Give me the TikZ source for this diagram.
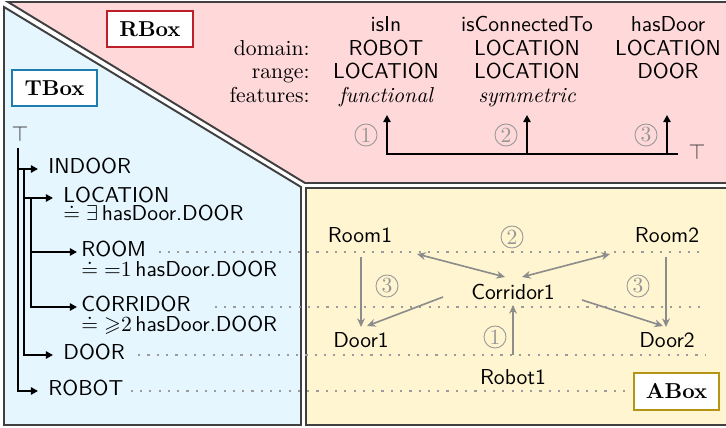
\documentclass[tikz,border=0pt]{standalone}
\usepackage{amsmath,amssymb}
\usepackage{fontspec}
\usetikzlibrary{arrows.meta,calc}
\definecolor{rfill}{RGB}{255,217,218}
\definecolor{bfill}{RGB}{229,246,255}
\definecolor{yfill}{RGB}{255,245,208}
\definecolor{rlab}{RGB}{190,30,40}
\definecolor{blab}{RGB}{30,125,175}
\definecolor{ylab}{RGB}{180,148,20}
\definecolor{arrgray}{RGB}{140,140,140}
\definecolor{numgray}{RGB}{150,150,150}
\definecolor{dotgray}{RGB}{155,155,155}
\begin{document}
\begin{tikzpicture}[x=0.463pt,y=-0.463pt,
  region/.style={line width=0.9pt,draw=black!75},
  boxlabel/.style={draw,fill=white,line width=0.9pt,minimum width=39.5pt,minimum height=17pt,inner sep=0pt,font=\bfseries},
  sans/.style={inner sep=0pt,font=\sffamily},
  tnode/.style={inner sep=0pt,font=\sffamily,anchor=base west},
  cell/.style={inner sep=0pt,font=\sffamily,anchor=base},
  icell/.style={inner sep=0pt,font=\itshape,anchor=base},
  rowlab/.style={inner sep=0pt,anchor=base east},
  circnum/.style={circle,draw=numgray,text=numgray,line width=0.4pt,minimum size=10.2pt,inner sep=0pt},
  tarr/.style={line width=0.8pt,-{Triangle[length=3.3pt,width=3.4pt]}},
  garr/.style={line width=0.75pt,draw=arrgray,-{Stealth[length=4pt,width=3.6pt]},arrgray},
  gdarr/.style={line width=0.75pt,draw=arrgray,{Stealth[length=4pt,width=3.6pt]}-{Stealth[length=4pt,width=3.6pt]},arrgray},
  dots/.style={draw=dotgray,line width=1pt,dash pattern=on 1pt off 3.3pt},
]
\useasboundingbox (0,0) rectangle (726,428);

% regions
\draw[region,fill=rfill] (8,2) -- (734,2) -- (734,183) -- (305,183) -- cycle;
\draw[region,fill=bfill] (4,7) -- (301,187) -- (301,425) -- (4,425) -- cycle;
\draw[region,fill=yfill] (306,188) -- (734,188) -- (734,425) -- (306,425) -- cycle;

% box labels
\node[boxlabel,draw=rlab] (RBox) at (150,29) {RBox};
\node[boxlabel,draw=blab] (TBox) at (54.5,88) {TBox};
\node[boxlabel,draw=ylab] (ABox) at (676.5,391.5) {ABox};

% RBox table
\node[cell] (h1) at (386,32) {isIn};
\node[cell] (h2) at (527,32) {isConnectedTo};
\node[cell] (h3) at (668,32) {hasDoor};
\node[rowlab] (ldom) at (310,56) {domain:};
\node[rowlab] (lran) at (310,79) {range:};
\node[rowlab] (lfea) at (310,103) {features:};
\node[cell] (d1) at (386,56) {ROBOT};
\node[cell] (d2) at (527,56) {LOCATION};
\node[cell] (d3) at (668,56) {LOCATION};
\node[cell] (r1) at (386,79) {LOCATION};
\node[cell] (r2) at (527,79) {LOCATION};
\node[cell] (r3) at (668,79) {DOOR};
\node[icell] (f1) at (386,103) {functional};
\node[icell] (f2) at (527,103) {symmetric};

% RBox role hierarchy
\node[inner sep=0pt,text=black!80] (RT) at (697,152) {$\top$};
\coordinate (tip1) at (387,115);
\coordinate (tip2) at (527,115);
\coordinate (tip3) at (667,115);
\draw[tarr] ($(RT.west)+(-10,2)$) -| (tip1);
\draw[tarr] ($(tip2)+(0,39)$) -- (tip2);
\draw[tarr] ($(tip3)+(0,39)$) -- (tip3);
\node[circnum] (rc1) at (366,135) {1};
\node[circnum] (rc2) at (506,135) {2};
\node[circnum] (rc3) at (646,135) {3};

% TBox tree
\node[inner sep=0pt,text=black!80] (T) at (20,134) {$\top$};
\node[tnode] (INDOOR) at (48,174) {INDOOR};
\node[tnode] (LOCATION) at (63,203) {LOCATION};
\node[tnode] (LOCdef) at (63,221) {$\doteq\exists$\,hasDoor.DOOR};
\node[tnode] (ROOM) at (81,257) {ROOM};
\node[tnode] (ROOMdef) at (81,277) {$\doteq{=}1$\,hasDoor.DOOR};
\node[tnode] (CORRIDOR) at (81,312) {CORRIDOR};
\node[tnode] (CORdef) at (81,332) {$\doteq{\geqslant}2$\,hasDoor.DOOR};
\node[tnode] (DOOR) at (63,360) {DOOR};
\node[tnode] (ROBOT) at (48,396) {ROBOT};

\draw[tarr] ($(T.south)+(-2.3,6)$) |- ($(INDOOR.base west)+(-10,-5)$);
\draw[tarr] ($(T.south)+(-2.3,6)$) |- ($(ROBOT.base west)+(-10,-5)$);
\draw[tarr] ($(INDOOR.base west)+(-24,-5)$) |- ($(LOCATION.base west)+(-10,-5)$);
\draw[tarr] ($(INDOOR.base west)+(-24,-5)$) |- ($(DOOR.base west)+(-10,-5)$);
\draw[tarr] ($(LOCATION.base west)+(-32,-5)$) |- ($(ROOM.base west)+(-4,-5)$);
\draw[tarr] ($(LOCATION.base west)+(-32,-5)$) |- ($(CORRIDOR.base west)+(-4,-5)$);

% ABox individuals
\node[sans] (Room1) at (360,235) {Room1};
\node[sans] (Room2) at (667,235) {Room2};
\node[sans] (Corridor1) at (513,292) {Corridor1};
\node[sans] (Door1) at (361,340) {Door1};
\node[sans] (Door2) at (667,340) {Door2};
\node[sans] (Robot1) at (513,377) {Robot1};

% dotted instance lines
\coordinate (e1) at (706,252);
\coordinate (e2) at (706,307);
\coordinate (e3) at (706,355);
\coordinate (e4) at (630,391);
\draw[dots] ($(ROOM.base east)+(12,-5)$) -- (e1);
\draw[dots] ($(CORRIDOR.base east)+(24,-5)$) -- (e2);
\draw[dots] ($(DOOR.base east)+(13,-5)$) -- (e3);
\draw[dots] ($(ROBOT.base east)+(7,-5)$) -- (e4);

% ABox relations
\draw[garr] ($(Room1)+(1,22)$) -- ($(Door1)+(0,-13)$);
\draw[garr] ($(Room2)+(-1,22)$) -- ($(Door2)+(-1,-13)$);
\draw[gdarr] ($(Room1)+(57,19)$) -- ($(Corridor1)+(-8,-15)$);
\draw[gdarr] ($(Room2)+(-57,19)$) -- ($(Corridor1)+(9,-15)$);
\draw[garr] ($(Corridor1)+(-70,5)$) -- ($(Door1)+(6,-14)$);
\draw[garr] ($(Corridor1)+(69,8)$) -- ($(Door2)+(-4,-14)$);
\draw[garr] ($(Robot1)+(0,-22)$) -- ($(Corridor1)+(0,13)$);

\node[circnum] (ac2) at (512,237) {2};
\node[circnum] (ac3a) at (387,286) {3};
\node[circnum] (ac3b) at (638,286) {3};
\node[circnum] (ac1) at (495,337) {1};
\end{tikzpicture}
\end{document}
